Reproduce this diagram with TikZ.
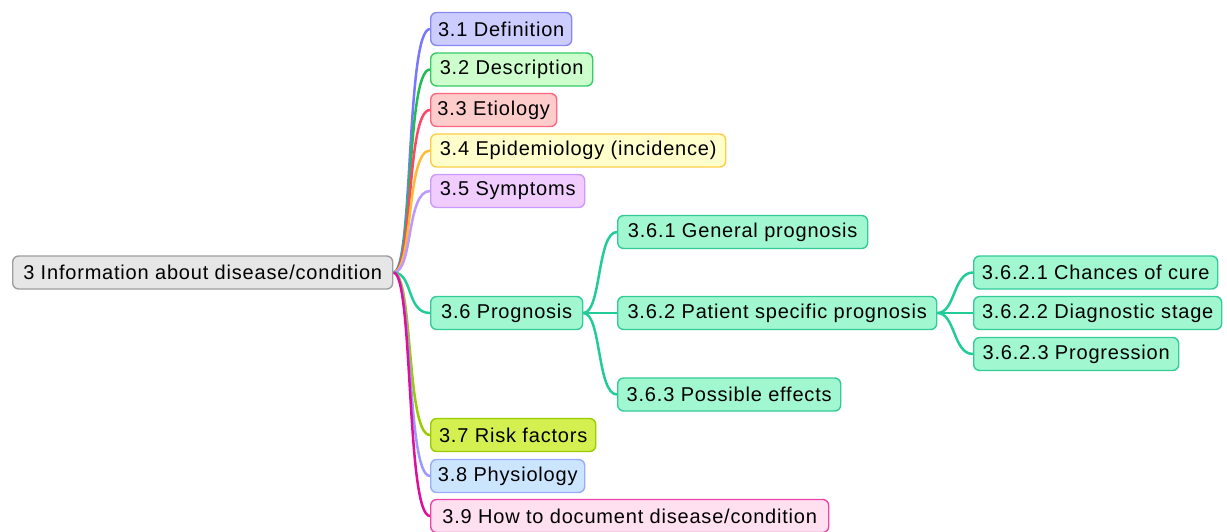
\documentclass[tikz,border=0pt]{standalone}
\usepackage{fontspec}
\newfontfamily\mmfont{Liberation Sans}[LetterSpace=4]
\usetikzlibrary{backgrounds}
\definecolor{rootF}{HTML}{E6E6E6}\definecolor{rootD}{HTML}{9E9E9E}
\definecolor{aF}{HTML}{CCCCFF}\definecolor{aD}{HTML}{8888F4}\definecolor{aE}{HTML}{7777FF}
\definecolor{bF}{HTML}{CCFFCC}\definecolor{bD}{HTML}{33CC66}\definecolor{bE}{HTML}{22BB55}
\definecolor{cF}{HTML}{FFCCCC}\definecolor{cD}{HTML}{FF6680}\definecolor{cE}{HTML}{FF4466}
\definecolor{dF}{HTML}{FFFFCC}\definecolor{dD}{HTML}{FFCC44}\definecolor{dE}{HTML}{FFBB33}
\definecolor{eF}{HTML}{F0CCFF}\definecolor{eD}{HTML}{CC99FF}\definecolor{eE}{HTML}{BB99FF}
\definecolor{fF}{HTML}{A0F7D0}\definecolor{fD}{HTML}{33CC99}\definecolor{fE}{HTML}{22CC99}
\definecolor{gF}{HTML}{D4F050}\definecolor{gD}{HTML}{99CC00}\definecolor{gE}{HTML}{99CC00}
\definecolor{hF}{HTML}{CCE5FF}\definecolor{hD}{HTML}{99AAFF}\definecolor{hE}{HTML}{9999FF}
\definecolor{iF}{HTML}{FFE0F0}\definecolor{iD}{HTML}{EE44AA}\definecolor{iE}{HTML}{DD1199}
\begin{document}
\begin{tikzpicture}[x=1pt,y=-1pt,
  mm/.style={draw, rounded corners=6pt, line width=1.4pt, anchor=west,
    minimum height=33pt, inner xsep=2pt, inner ysep=0pt,
    font=\mmfont\fontsize{20}{24}\selectfont, text=black},
  edge/.style={line width=2.5pt}]
\useasboundingbox (0,0) rectangle (1227,532);
\node[mm, fill=rootF, draw=rootD, minimum width=380pt] (root) at (12,272.5) {3 Information about disease/condition};
\node[mm, fill=aF, draw=aD, minimum width=141pt] (n1) at (430,29) {3.1 Definition};
\node[mm, fill=bF, draw=bD, minimum width=162pt] (n2) at (430,69.5) {3.2 Description};
\node[mm, fill=cF, draw=cD, minimum width=126pt] (n3) at (430,110) {3.3 Etiology};
\node[mm, fill=dF, draw=dD, minimum width=295pt] (n4) at (430,150.5) {3.4 Epidemiology (incidence)};
\node[mm, fill=eF, draw=eD, minimum width=154pt] (n5) at (430,191) {3.5 Symptoms};
\node[mm, fill=fF, draw=fD, minimum width=152pt] (n6) at (430,313) {3.6 Prognosis};
\node[mm, fill=gF, draw=gD, minimum width=165pt] (n7) at (430,435) {3.7 Risk factors};
\node[mm, fill=hF, draw=hD, minimum width=154pt] (n8) at (430,476) {3.8 Physiology};
\node[mm, fill=iF, draw=iD, minimum width=398pt] (n9) at (430,516) {3.9 How to document disease/condition};
\node[mm, fill=fF, draw=fD, minimum width=250pt] (n61) at (617,232) {3.6.1 General prognosis};
\node[mm, fill=fF, draw=fD, minimum width=319pt] (n62) at (617,313) {3.6.2 Patient specific prognosis};
\node[mm, fill=fF, draw=fD, minimum width=223pt] (n63) at (617,394.5) {3.6.3 Possible effects};
\node[mm, fill=fF, draw=fD, minimum width=244pt] (n621) at (973,272.5) {3.6.2.1 Chances of cure};
\node[mm, fill=fF, draw=fD, minimum width=248pt] (n622) at (973,313) {3.6.2.2 Diagnostic stage};
\node[mm, fill=fF, draw=fD, minimum width=205pt] (n623) at (973,354) {3.6.2.3 Progression};
\begin{scope}[on background layer]
\foreach \n/\c in {n1/aE,n2/bE,n3/cE,n4/dE,n5/eE,n6/fE,n7/gE,n8/hE,n9/iE}
  \draw[edge, draw=\c] (root.east) .. controls +(20,0) and +(-24,0) .. (\n.west);
\foreach \n in {n61,n62,n63}
  \draw[edge, draw=fE] (n6.east) .. controls +(18,0) and +(-20,0) .. (\n.west);
\foreach \n in {n621,n622,n623}
  \draw[edge, draw=fE] (n62.east) .. controls +(18,0) and +(-20,0) .. (\n.west);
\end{scope}
\end{tikzpicture}
\end{document}
